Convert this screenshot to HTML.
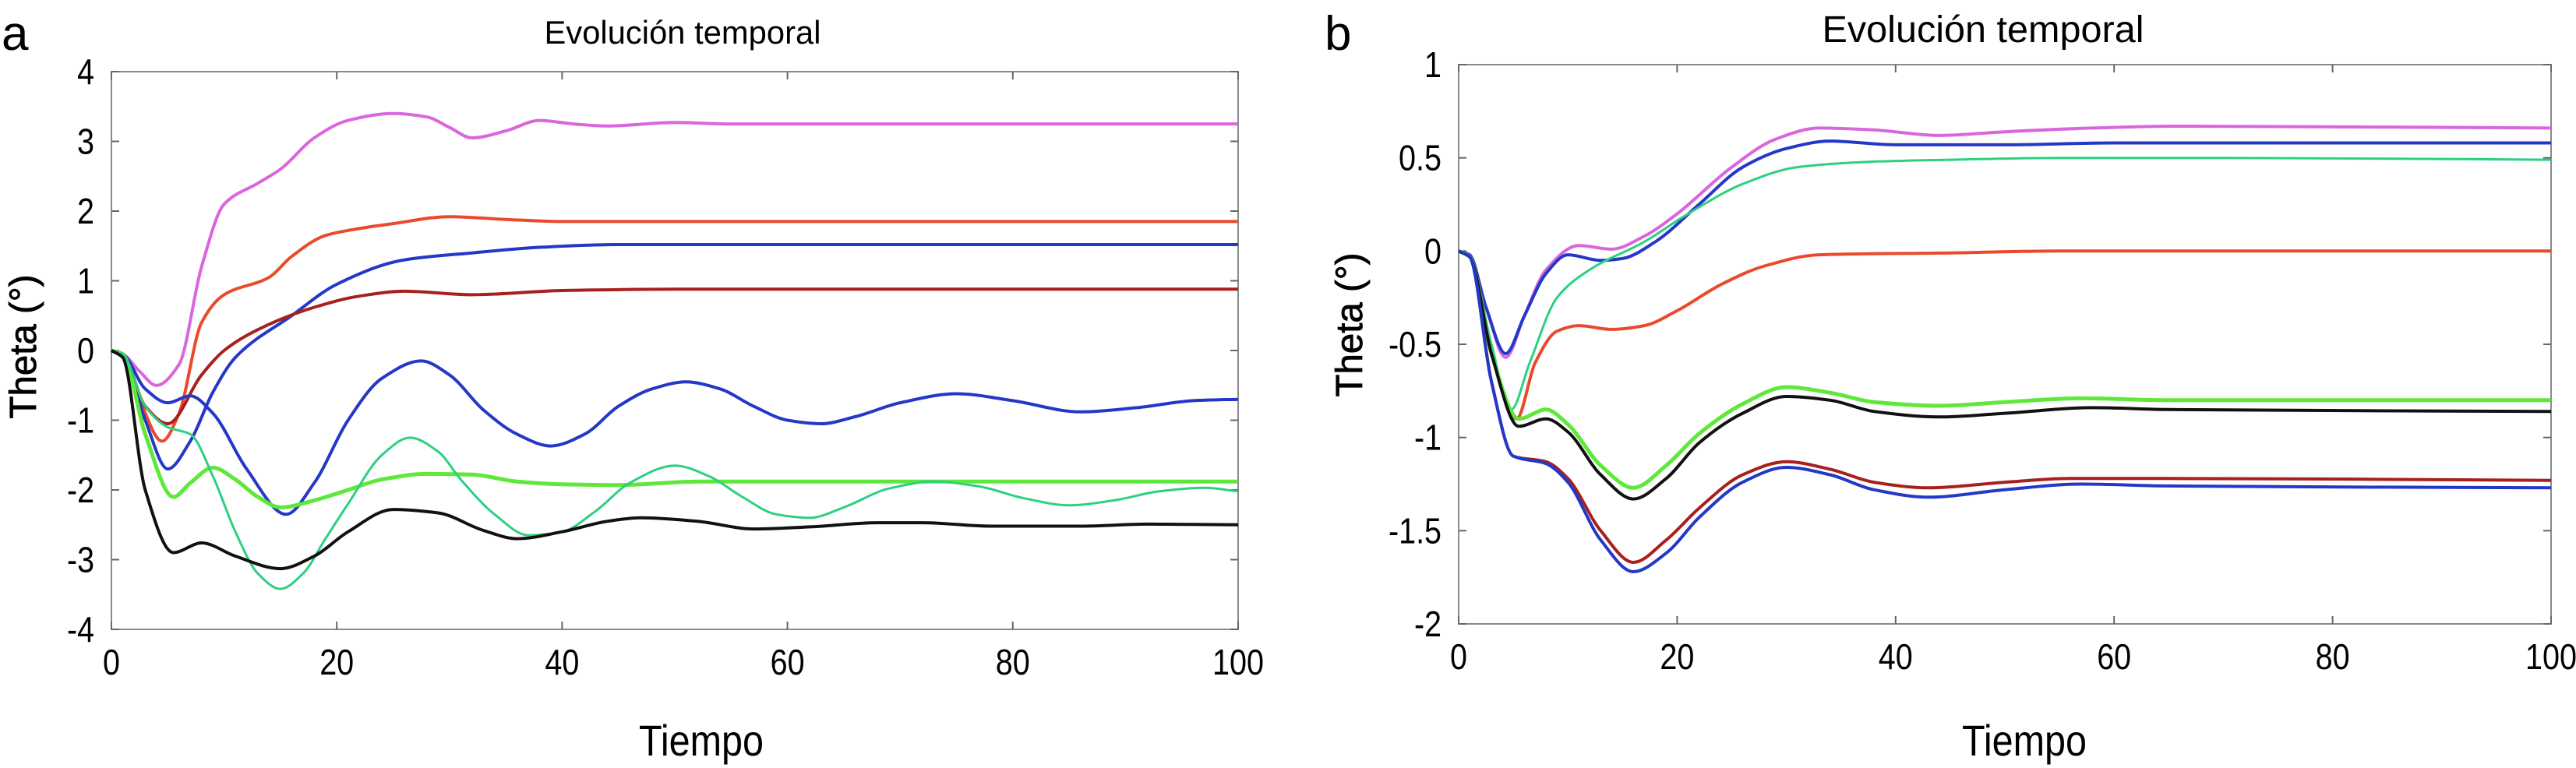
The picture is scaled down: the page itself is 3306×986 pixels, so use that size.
<!DOCTYPE html>
<html><head><meta charset="utf-8"><style>
body{margin:0;background:#fff;}
svg{display:block;}
text{font-family:"Liberation Sans Narrow","Liberation Sans",sans-serif;fill:#000;}
</style></head><body>
<svg id="fig" width="3306" height="986" viewBox="0 0 3306 986"></svg>
<script>
// ---- Panel a data ----
const xTicksA = [0,20,40,60,80,100];
const yTicksA = [4,3,2,1,0,-1,-2,-3,-4];
const a_magenta = [[0,0],[1,-0.05],[2.5,-0.3],[4,-0.5],[6,-0.2],[8,1.2],[10,2.1],[13,2.4],[15,2.6],[18,3.05],[21,3.3],[25,3.4],[28,3.35],[30,3.2],[32,3.05],[35,3.15],[38,3.3],[41,3.25],[44,3.22],[50,3.27],[55,3.25],[100,3.25]];
const a_red = [[0,0],[1,-0.05],[2.5,-0.7],[4.5,-1.3],[6,-0.9],[8,0.4],[10,0.8],[14,1.05],[16,1.35],[19,1.65],[22,1.75],[25,1.82],[30,1.92],[35,1.88],[40,1.85],[100,1.85]];
const a_blue1 = [[0,0],[1,-0.05],[3,-1.0],[5,-1.7],[7,-1.3],[9,-0.6],[11,-0.1],[16,0.5],[20,0.95],[26,1.3],[32,1.4],[38,1.48],[45,1.52],[100,1.52]];
const a_darkred = [[0,0],[1,-0.05],[3,-0.8],[5,-1.05],[8,-0.35],[10,0],[13,0.3],[18,0.62],[22,0.78],[26,0.85],[32,0.8],[40,0.86],[50,0.88],[100,0.88]];
const a_blue2 = [[0,0],[1,-0.05],[3,-0.55],[5,-0.75],[7,-0.65],[9,-0.9],[12,-1.7],[15.5,-2.35],[18,-1.9],[21,-1.0],[24,-0.4],[27.5,-0.15],[30,-0.35],[33,-0.85],[36,-1.2],[39,-1.37],[42,-1.2],[45,-0.8],[48,-0.55],[51,-0.45],[54,-0.55],[57,-0.8],[60,-1.0],[63,-1.05],[66,-0.95],[70,-0.75],[75,-0.62],[80,-0.72],[86,-0.88],[91,-0.82],[96,-0.72],[100,-0.7]];
const a_green = [[0,0],[1,-0.05],[3,-1.2],[5.5,-2.1],[7,-1.9],[9,-1.68],[11,-1.85],[13,-2.1],[15,-2.25],[18,-2.15],[21,-2.0],[24,-1.85],[28,-1.77],[32,-1.78],[36,-1.88],[40,-1.92],[45,-1.93],[52,-1.88],[60,-1.88],[100,-1.88]];
const a_sea = [[0,0],[1,-0.05],[3,-0.8],[5,-1.1],[7,-1.2],[9,-1.8],[11,-2.6],[13,-3.2],[15,-3.42],[17,-3.2],[19,-2.7],[21,-2.2],[24,-1.5],[26.5,-1.25],[29,-1.45],[31,-1.85],[34,-2.35],[37,-2.65],[40,-2.6],[43,-2.3],[46,-1.9],[50,-1.65],[53,-1.8],[56,-2.1],[59,-2.35],[62,-2.4],[65,-2.25],[69,-1.98],[73,-1.88],[77,-1.95],[81,-2.12],[85,-2.22],[89,-2.15],[93,-2.02],[97,-1.97],[100,-2.02]];
const a_black = [[0,0],[1,-0.1],[3,-2.0],[5.5,-2.9],[8,-2.76],[11,-2.95],[15,-3.13],[18,-2.95],[21,-2.6],[25,-2.28],[29,-2.33],[33,-2.58],[36,-2.7],[40,-2.6],[44,-2.45],[47,-2.4],[52,-2.45],[57,-2.56],[62,-2.53],[68,-2.47],[72,-2.47],[78,-2.52],[86,-2.52],[92,-2.49],[100,-2.5]];
// ---- Panel b data ----
const xTicksB = [0,20,40,60,80,100];
const yTicksB = [1,0.5,0,-0.5,-1,-1.5,-2];
const yTickLabelsB = ["1","0.5","0","-0.5","-1","-1.5","-2"];
const b_magenta = [[0,0],[1,-0.02],[2.5,-0.3],[4.3,-0.57],[6,-0.35],[8,-0.1],[11,0.03],[14,0.01],[17,0.08],[20,0.2],[25,0.45],[29,0.6],[33,0.66],[38,0.65],[44,0.62],[50,0.64],[58,0.66],[66,0.67],[100,0.66]];
const b_blue1 = [[0,0],[1,-0.02],[2.5,-0.3],[4.3,-0.55],[6,-0.35],[8,-0.12],[10,-0.02],[13,-0.05],[15,-0.04],[18,0.05],[22,0.25],[26,0.45],[30,0.55],[34,0.59],[40,0.57],[50,0.57],[60,0.58],[100,0.58]];
const b_sea = [[0,0],[1,-0.03],[3,-0.5],[4.8,-0.85],[6.5,-0.6],[9,-0.25],[12,-0.1],[17,0.05],[21,0.2],[26,0.36],[31,0.45],[38,0.48],[45,0.49],[55,0.5],[70,0.5],[100,0.49]];
const b_red = [[0,0],[1,-0.03],[3,-0.55],[5.3,-0.9],[7,-0.6],[9,-0.43],[11,-0.4],[14,-0.42],[17,-0.4],[20,-0.32],[24,-0.18],[28,-0.08],[33,-0.02],[45,-0.01],[55,0],[100,0]];
const b_green = [[0,0],[1,-0.03],[3,-0.55],[5.5,-0.9],[8,-0.85],[10,-0.93],[13,-1.15],[16,-1.27],[19,-1.15],[22,-0.98],[26,-0.82],[30,-0.73],[34,-0.76],[38,-0.81],[44,-0.83],[50,-0.81],[57,-0.79],[65,-0.8],[100,-0.8]];
const b_black = [[0,0],[1,-0.03],[3,-0.55],[5.5,-0.94],[8,-0.9],[10,-0.97],[13,-1.2],[16,-1.33],[19,-1.22],[22,-1.03],[26,-0.87],[30,-0.78],[34,-0.8],[38,-0.86],[44,-0.89],[50,-0.87],[58,-0.84],[65,-0.85],[100,-0.86]];
const b_darkred = [[0,0],[1,-0.03],[3,-0.7],[5,-1.1],[8,-1.13],[10,-1.22],[13,-1.5],[16,-1.67],[19,-1.55],[22,-1.38],[26,-1.2],[30,-1.13],[34,-1.17],[38,-1.24],[43,-1.27],[50,-1.24],[56,-1.22],[65,-1.22],[100,-1.23]];
const b_blue2 = [[0,0],[1,-0.03],[3,-0.7],[5,-1.1],[8,-1.14],[10,-1.24],[13,-1.55],[16,-1.72],[19,-1.62],[22,-1.43],[26,-1.24],[30,-1.16],[34,-1.2],[38,-1.28],[43,-1.32],[50,-1.28],[57,-1.25],[65,-1.26],[100,-1.27]];

const NS="http://www.w3.org/2000/svg";
const svg=document.getElementById('fig');
function mk(tag,attrs,parent){const e=document.createElementNS(NS,tag);for(const k in attrs)e.setAttribute(k,attrs[k]);(parent||svg).appendChild(e);return e;}

// monotone cubic (Fritsch-Carlson) in screen coordinates -> bezier path
function smoothPath(pts){
  const n=pts.length;
  const dx=[],m=[];
  for(let i=0;i<n-1;i++){dx[i]=pts[i+1][0]-pts[i][0];m[i]=(pts[i+1][1]-pts[i][1])/dx[i];}
  const t=[];
  t[0]=m[0];t[n-1]=m[n-2];
  for(let i=1;i<n-1;i++){
    if(m[i-1]*m[i]<=0)t[i]=0;
    else{const w1=2*dx[i]+dx[i-1],w2=dx[i]+2*dx[i-1];t[i]=(w1+w2)/(w1/m[i-1]+w2/m[i]);}
  }
  let d="M"+pts[0][0].toFixed(1)+","+pts[0][1].toFixed(1);
  for(let i=0;i<n-1;i++){
    const h=dx[i]/3;
    d+=" C"+(pts[i][0]+h).toFixed(1)+","+(pts[i][1]+t[i]*h).toFixed(1)+" "+(pts[i+1][0]-h).toFixed(1)+","+(pts[i+1][1]-t[i+1]*h).toFixed(1)+" "+pts[i+1][0].toFixed(1)+","+pts[i+1][1].toFixed(1);
  }
  return d;
}
function lblLen(s,fs){let w=0;for(const c of s){w+=(c==='-'?0.3:c==='.'?0.25:0.5)*fs;}return w;}

function panel(cfg){
  const g=mk('g',{});
  
  
  const {L,R,T,B,xmin,xmax,ymin,ymax}=cfg;
  const sx=v=>L+(v-xmin)/(xmax-xmin)*(R-L);
  const sy=v=>B-(v-ymin)/(ymax-ymin)*(B-T);
  const fr=mk('rect',{x:L,y:T,width:R-L,height:B-T,fill:'none',stroke:'#8a8a8a','stroke-width':2},g);
  
  
  cfg.xticks.forEach(v=>{
    const x=sx(v);
    mk('line',{x1:x,y1:B,x2:x,y2:B-10,stroke:'#666','stroke-width':2},g);
    mk('line',{x1:x,y1:T,x2:x,y2:T+10,stroke:'#666','stroke-width':2},g);
    const s=String(v);
    const t=mk('text',{x:x,y:B+58,'font-size':46,'text-anchor':'middle',textLength:lblLen(s,44).toFixed(0),lengthAdjust:'spacingAndGlyphs'},g);
    t.textContent=s;
    
    
  });
  cfg.yticks.forEach((v,i)=>{
    const y=sy(v);
    mk('line',{x1:L,y1:y,x2:L+10,y2:y,stroke:'#666','stroke-width':2},g);
    mk('line',{x1:R,y1:y,x2:R-10,y2:y,stroke:'#666','stroke-width':2},g);
    const s=cfg.ylabels?cfg.ylabels[i]:String(v);
    const t=mk('text',{x:L-22,y:y+16,'font-size':46,'text-anchor':'end',textLength:lblLen(s,44).toFixed(0),lengthAdjust:'spacingAndGlyphs'},g);
    t.textContent=s;
    
    
  });
  cfg.series.forEach(s=>{
    const pts=s.data.map(p=>[sx(p[0]),sy(p[1])]);
    const p=mk('path',{d:smoothPath(pts),fill:'none',stroke:s.color,'stroke-width':s.w||4,'stroke-linejoin':'round'},g);
    
    
  });
  const tt=mk('text',{x:cfg.titleX,y:cfg.titleY,'font-size':cfg.titleSize,'text-anchor':'middle',textLength:cfg.titleLen,lengthAdjust:'spacingAndGlyphs'},g);
  tt.textContent='Evolución temporal';
  
  
  const xl=mk('text',{x:cfg.xlabX,y:970,'font-size':56,'text-anchor':'middle',textLength:160,lengthAdjust:'spacingAndGlyphs'},g);
  xl.textContent='Tiempo';
  
  
  const yl=mk('text',{x:0,y:0,'font-size':48,'text-anchor':'middle',textLength:185,lengthAdjust:'spacingAndGlyphs',transform:`translate(${cfg.ylabX},${cfg.ylabY}) rotate(-90)`,style:'font-family:"Liberation Sans",sans-serif;stroke:#000;stroke-width:0.8'},g);
  yl.textContent='Theta (°)';
  
  
  const pl=mk('text',{x:cfg.letterX,y:64,'font-size':62,style:'font-family:"Liberation Sans",sans-serif'},g);
  pl.textContent=cfg.letter;
  
  
}

panel({name:'panel-a',L:143,R:1589,T:92,B:808,xmin:0,xmax:100,ymin:-4,ymax:4,
  xticks:xTicksA,yticks:yTicksA,titleX:876,titleY:56,titleSize:42,titleLen:355,xlabX:900,ylabX:46,ylabY:445,letter:'a',letterX:2,
  series:[
    {name:'series-magenta',color:'#d966dc',data:a_magenta},
    {name:'series-red',color:'#ea4a2c',data:a_red},
    {name:'series-blue-upper',color:'#2438c8',data:a_blue1},
    {name:'series-darkred',color:'#a8201e',data:a_darkred},
    {name:'series-blue-oscillating',color:'#2438c8',data:a_blue2},
    {name:'series-green',color:'#5ee83a',data:a_green,w:5},
    {name:'series-seagreen',color:'#2cd080',data:a_sea,w:3},
    {name:'series-black',color:'#111',data:a_black}
  ]});

panel({name:'panel-b',L:1872,R:3274,T:83,B:801,xmin:0,xmax:100,ymin:-2,ymax:1,
  xticks:xTicksB,yticks:yTicksB,ylabels:yTickLabelsB,titleX:2545,titleY:54,titleSize:48,titleLen:413,xlabX:2598,ylabX:1748,ylabY:417,letter:'b',letterX:1700,
  series:[
    {name:'series-magenta',color:'#d966dc',data:b_magenta},
    {name:'series-blue-upper',color:'#2438c8',data:b_blue1},
    {name:'series-seagreen',color:'#2cd080',data:b_sea,w:3},
    {name:'series-red',color:'#ea4a2c',data:b_red},
    {name:'series-green',color:'#5ee83a',data:b_green,w:5},
    {name:'series-black',color:'#111',data:b_black},
    {name:'series-darkred',color:'#a8201e',data:b_darkred},
    {name:'series-blue-lower',color:'#2438c8',data:b_blue2}
  ]});
</script>
</body></html>
